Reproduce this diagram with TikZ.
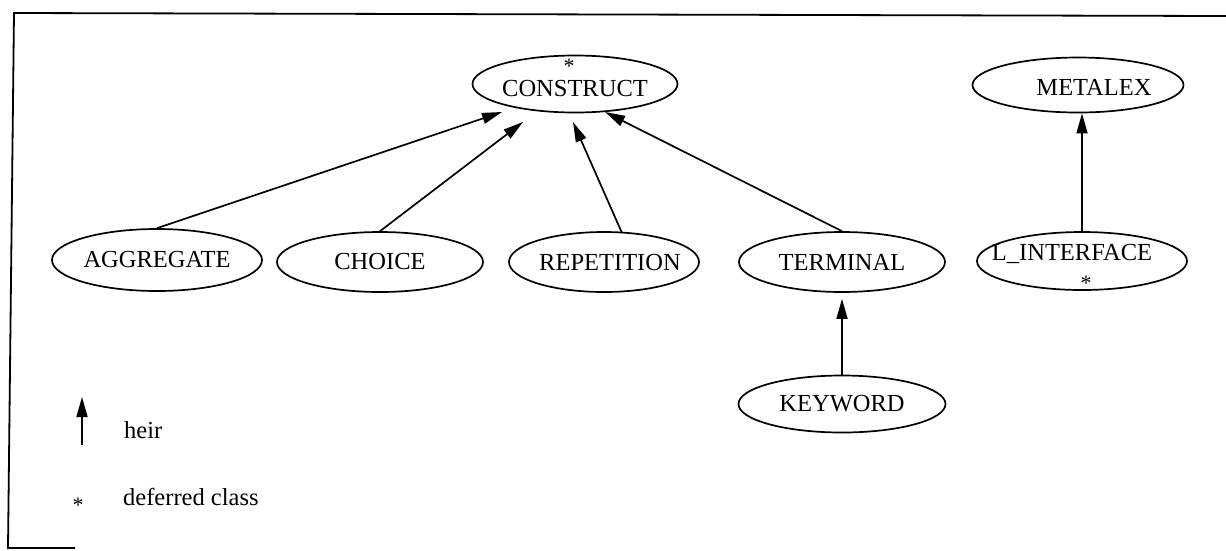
\documentclass[tikz,border=0pt]{standalone}
\usepackage{fontspec}
\setmainfont{Liberation Serif}
\usetikzlibrary{shapes.geometric,arrows.meta,calc}

\tikzset{
  cls/.style={draw, ellipse, line width=1.7pt, inner sep=0pt,
              font=\fontsize{24.5}{29}\selectfont},
  clstext/.style={inner sep=0pt, font=\fontsize{24.5}{29}\selectfont},
  heir/.style={line width=1.7pt, -{Triangle[length=20pt,width=11pt]}},
  frameline/.style={line width=1.8pt},
  star/.style={inner sep=0pt, font=\fontsize{22}{26}\selectfont},
  legend/.style={inner sep=0pt, anchor=west, font=\fontsize{24.5}{29}\selectfont}
}

\begin{document}
\begin{tikzpicture}[x=1pt, y=-1pt]
  \useasboundingbox (0,0) rectangle (1226,550);

  % open frame
  \coordinate (ftl) at (14,13);
  \coordinate (ftr) at (1226,16);
  \coordinate (fbl) at (8,548);
  \coordinate (fbr) at (75,548);
  \draw[frameline] (ftr) -- (ftl) -- (fbl) -- (fbr);

  % classes
  \node[cls, minimum width=205pt, minimum height=57pt] (construct) at (575,84) {};
  \node[clstext] (constructT) at (575,89) {CONSTRUCT};
  \node[star] (constructS) at (569,66) {*};

  \node[cls, minimum width=211pt, minimum height=55pt] (metalex) at (1078,85) {};
  \node[clstext] (metalexT) at (1094,87) {METALEX};

  \node[cls, minimum width=210pt, minimum height=62pt] (agg) at (157,260) {AGGREGATE};
  \node[cls, minimum width=206pt, minimum height=60pt] (choice) at (380,262) {CHOICE};
  \node[cls, minimum width=190pt, minimum height=60pt] (rep) at (604,262) {};
  \node[clstext] (repT) at (610,263) {REPETITION};
  \node[cls, minimum width=206pt, minimum height=60pt] (term) at (842,262) {TERMINAL};

  \node[cls, minimum width=210pt, minimum height=58pt] (li) at (1082,261) {};
  \node[clstext] (liT) at (1072,254) {L\_INTERFACE};
  \node[star] (liS) at (1086,283) {*};

  \node[cls, minimum width=207pt, minimum height=57pt] (kw) at (842,404) {KEYWORD};

  % inheritance links
  \draw[heir] (agg.north) -- ($(construct)+(-73,28)$);
  \draw[heir] (choice.north) -- ($(construct)+(-52,38)$);
  \draw[heir] ($(rep)+(18,-29)$) -- ($(construct)+(-2,38)$);
  \draw[heir] (term.north) -- ($(construct)+(30,28)$);
  \draw[heir] (kw.north) -- ($(kw.north |- term.south)+(0,6)$);
  \draw[heir] (li.north) -- (li.north |- metalex.south);

  % legend
  \coordinate (lgA) at (82,445);
  \coordinate (lgB) at (82,397);
  \draw[heir] (lgA) -- (lgB);
  \node[legend] (heirT) at (124,430) {heir};
  \node[star] (lgS) at (78,505) {*};
  \node[legend] (defT) at (123,497) {deferred class};
\end{tikzpicture}
\end{document}
